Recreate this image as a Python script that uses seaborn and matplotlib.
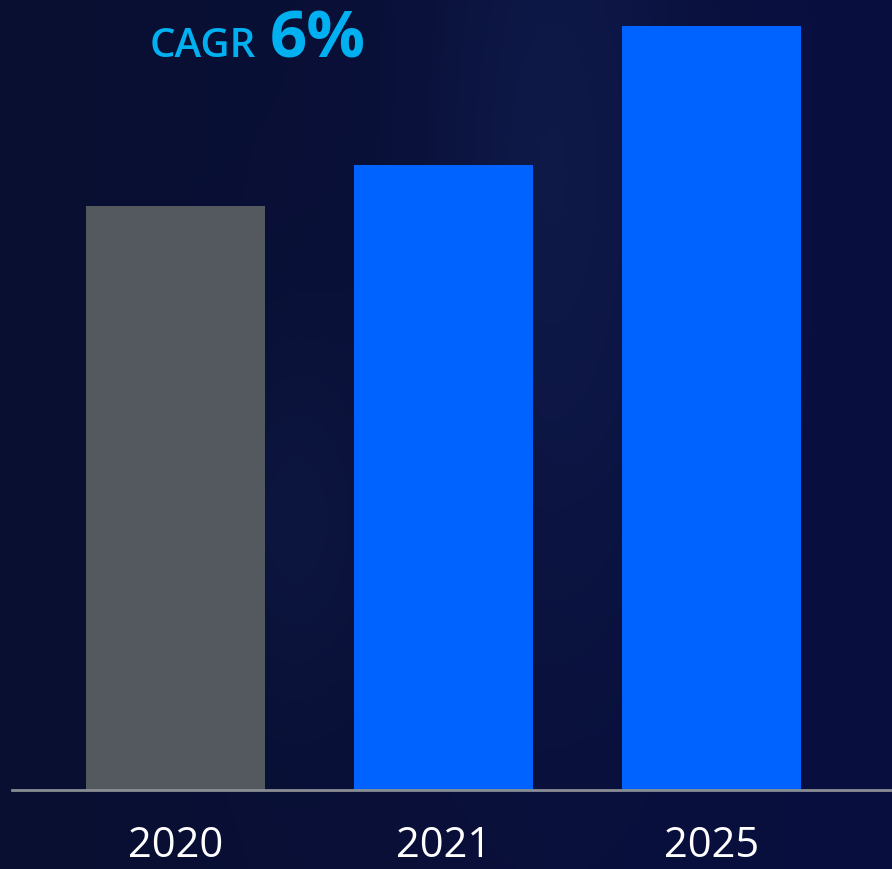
import numpy as np
import pandas as pd
import matplotlib
matplotlib.use("Agg")
import matplotlib.pyplot as plt
import seaborn as sns

years = ["2020", "2021", "2025"]
values = [584, 625, 764]
bar_colors = ["#54585f", "#0062ff", "#0062ff"]
cagr_label = "CAGR"
cagr_value = "6%"

df = pd.DataFrame({"year": years, "value": values})

sns.set_theme(style="white")
plt.rcParams["font.family"] = ["Open Sans", "Noto Sans", "DejaVu Sans"]

W, H = 892, 869
fig = plt.figure(figsize=(W / 100, H / 100), dpi=100)

# background gradient
bg = fig.add_axes([0, 0, 1, 1], zorder=0)
xx = np.linspace(0, 1, 300)
yy = np.linspace(0, 1, 300)
X, Y = np.meshgrid(xx, yy)
base = np.array([0.035, 0.06, 0.19])
glow = np.exp(-((X - 0.62) ** 2) / 0.02 - ((Y - 0.2) ** 2) / 0.25) * 0.55
glow2 = np.exp(-((X - 0.33) ** 2) / 0.01 - ((Y - 0.6) ** 2) / 0.05) * 0.35
g = glow + glow2
img = np.zeros((300, 300, 3))
img[..., 0] = base[0] + g * 0.04
img[..., 1] = base[1] + g * 0.07
img[..., 2] = base[2] + g * 0.10
img[..., 2] += (X * 0.06)
img = np.clip(img, 0, 1)
bg.imshow(img, aspect="auto", extent=[0, 1, 1, 0])
bg.axis("off")

# main axes: left edge at x=12 px, baseline at y=790 px
left = 12 / W
bottom = (H - 790) / H
ax = fig.add_axes([left, bottom, 1 - left, 790 / H], zorder=1)
ax.patch.set_alpha(0)

sns.barplot(data=df, x="year", y="value", hue="year", palette=bar_colors,
            width=0.668, legend=False, ax=ax, saturation=1, linewidth=0,
            edgecolor="none")

# x positions: centers at 175.5, 443.5, 711.5 px, spacing 268 px
ax.set_xlim(-(175.5 - 12) / 268, 2 + (892 - 711.5) / 268)
ax.set_ylim(0, 790)

for s in ["top", "right", "left"]:
    ax.spines[s].set_visible(False)
ax.spines["bottom"].set_color("#8a8d93")
ax.spines["bottom"].set_linewidth(2)
ax.set_yticks([])
ax.set_xlabel("")
ax.set_ylabel("")
ax.tick_params(axis="x", length=0, colors="white", labelsize=30, pad=25)

fig.text(150 / W, 1 - 57 / H, cagr_label, color="#00b0f0", fontsize=29,
         ha="left", va="baseline", fontweight="semibold")
fig.text(270 / W, 1 - 57 / H, cagr_value, color="#00b0f0", fontsize=47,
         ha="left", va="baseline", fontweight="bold")

fig.savefig("out.png", dpi=100, facecolor="#0a1233")
